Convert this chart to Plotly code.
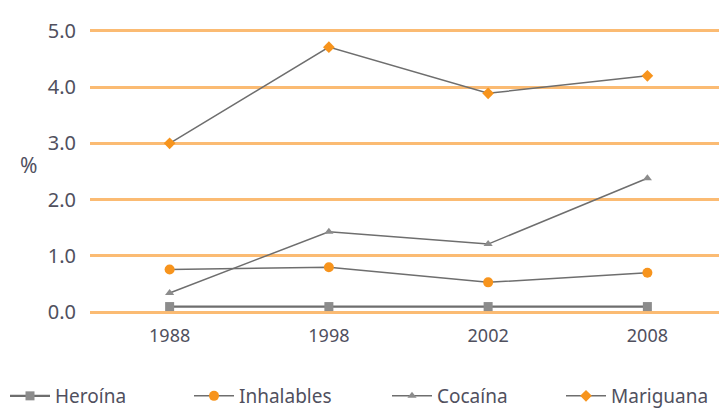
import plotly.graph_objects as go

years = ["1988", "1998", "2002", "2008"]
heroina = [0.1, 0.1, 0.1, 0.1]
inhalables = [0.76, 0.8, 0.53, 0.7]
cocaina = [0.34, 1.43, 1.21, 2.38]
mariguana = [3.0, 4.71, 3.89, 4.2]
y_ticks = [0, 1, 2, 3, 4, 5]
y_labels = ["0.0", "1.0", "2.0", "3.0", "4.0", "5.0"]

LINE = "#6e6e6e"
ORANGE = "#f7941d"
GRAYM = "#8c8c8c"
TXT = "#50505e"
FONT = "Noto Sans"

OFF = 8  # page body margin
W, H = 727, 409
ML, MR, MT, MB = 90 - OFF, OFF, 28 - OFF, 94 + OFF
PW = W - ML - MR
PH = H - MT - MB


def px2x(px):
    return (px - OFF - ML) / PW


def px2y(py):
    return (H - MB - (py - OFF)) / PH


fig = go.Figure()
fig.add_trace(go.Scatter(x=years, y=heroina, name="Heroína", mode="lines+markers",
                         line=dict(color=LINE, width=2.2), legend="legend",
                         marker=dict(symbol="square", size=9, color=GRAYM)))
fig.add_trace(go.Scatter(x=years, y=inhalables, name="Inhalables", mode="lines+markers",
                         line=dict(color=LINE, width=1.5), legend="legend2",
                         marker=dict(symbol="circle", size=10, color=ORANGE)))
fig.add_trace(go.Scatter(x=years, y=cocaina, name="Cocaína", mode="lines+markers",
                         line=dict(color=LINE, width=1.5), legend="legend3",
                         marker=dict(symbol="triangle-up", size=8, color=GRAYM)))
fig.add_trace(go.Scatter(x=years, y=mariguana, name="Mariguana", mode="lines+markers",
                         line=dict(color=LINE, width=1.5), legend="legend4",
                         marker=dict(symbol="diamond", size=9, color=ORANGE)))

leg_font = dict(family=FONT, size=19, color=TXT)
leg_common = dict(orientation="h", yanchor="middle", xanchor="left",
                  itemwidth=40, font=leg_font, bgcolor="rgba(0,0,0,0)")
legend_px = [5, 189, 387, 561]

fig.update_layout(
    width=W, height=H,
    margin=dict(l=ML, r=MR, t=MT, b=MB, autoexpand=False),
    paper_bgcolor="white", plot_bgcolor="white",
    font=dict(family=FONT, color=TXT),
    showlegend=True,
    legend=dict(x=px2x(legend_px[0]), y=px2y(396), **leg_common),
    legend2=dict(x=px2x(legend_px[1]), y=px2y(396), **leg_common),
    legend3=dict(x=px2x(legend_px[2]), y=px2y(396), **leg_common),
    legend4=dict(x=px2x(legend_px[3]), y=px2y(396), **leg_common),
    xaxis=dict(type="category", range=[-0.5, 3.5], showgrid=False, zeroline=False,
               showline=False, ticks="", ticklabelstandoff=8,
               tickfont=dict(size=18, color=TXT)),
    yaxis=dict(range=[-0.05, 5.05], tickvals=y_ticks, ticktext=y_labels,
               showgrid=True, gridcolor="#fbbb73", gridwidth=2.5, zeroline=False,
               showline=False, ticks="", ticklabelstandoff=13,
               tickfont=dict(size=20, color=TXT)),
    annotations=[dict(text="%", x=px2x(28), y=px2y(165), xref="paper", yref="paper",
                      showarrow=False, xanchor="center", yanchor="middle",
                      font=dict(size=21, color=TXT))],
)

fig.write_html("out.html")
